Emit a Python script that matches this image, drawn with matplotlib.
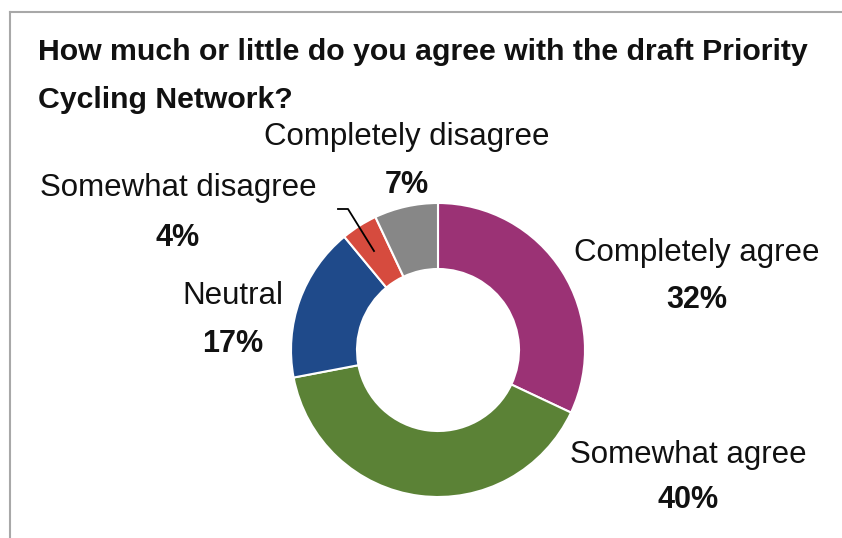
import matplotlib.pyplot as plt
from matplotlib.lines import Line2D

plt.rcParams['font.family'] = ['Liberation Sans', 'DejaVu Sans']

categories = ['Completely agree', 'Somewhat agree', 'Neutral',
              'Somewhat disagree', 'Completely disagree']
values = [32, 40, 17, 4, 7]
colors = ['#9B3275', '#5B8236', '#1F4A8A', '#D64B3E', '#878787']

title = 'How much or little do you agree with the draft Priority\nCycling Network?'

W, H = 842, 538
fig = plt.figure(figsize=(W / 100, H / 100), dpi=100)
ax = fig.add_axes([0, 0, 1, 1])

# donut, clockwise from the top
ax.pie(values, colors=colors, startangle=90, counterclock=False,
       center=(438, H - 350), radius=147,
       wedgeprops=dict(width=66, edgecolor='white', linewidth=1.5))
ax.set_xlim(0, W)
ax.set_ylim(0, H)
ax.set_aspect('equal')
ax.axis('off')

# label positions (pixel coords from top)
label_pos = {
    'Completely agree': (697, 253, 300),
    'Somewhat agree': (688, 455, 500),
    'Neutral': (233, 296, 344),
    'Somewhat disagree': (178, 188, 238),
    'Completely disagree': (407, 137, 185),
}
for cat, val in zip(categories, values):
    x, y1, y2 = label_pos[cat]
    ax.text(x, H - y1, cat, ha='center', va='center', fontsize=22.5, color='#111111')
    ax.text(x, H - y2, f'{val}%', ha='center', va='center', fontsize=22,
            fontweight='bold', color='#111111')

# leader line for the small slice
ax.plot([338, 348, 374], [H - 209, H - 209, H - 251], color='black', lw=1.3)

# title
fig.text(38 / W, 1 - 38 / H, title, ha='left', va='top', fontsize=21.8,
         fontweight='bold', color='#111111', linespacing=1.92)

# frame lines on top and left
fig.add_artist(Line2D([10 / W, 1], [1 - 12 / H, 1 - 12 / H], color='#A8A8A8', lw=1.5))
fig.add_artist(Line2D([10 / W, 10 / W], [0, 1 - 12 / H], color='#A8A8A8', lw=1.5))

fig.savefig('out.png', dpi=100)
